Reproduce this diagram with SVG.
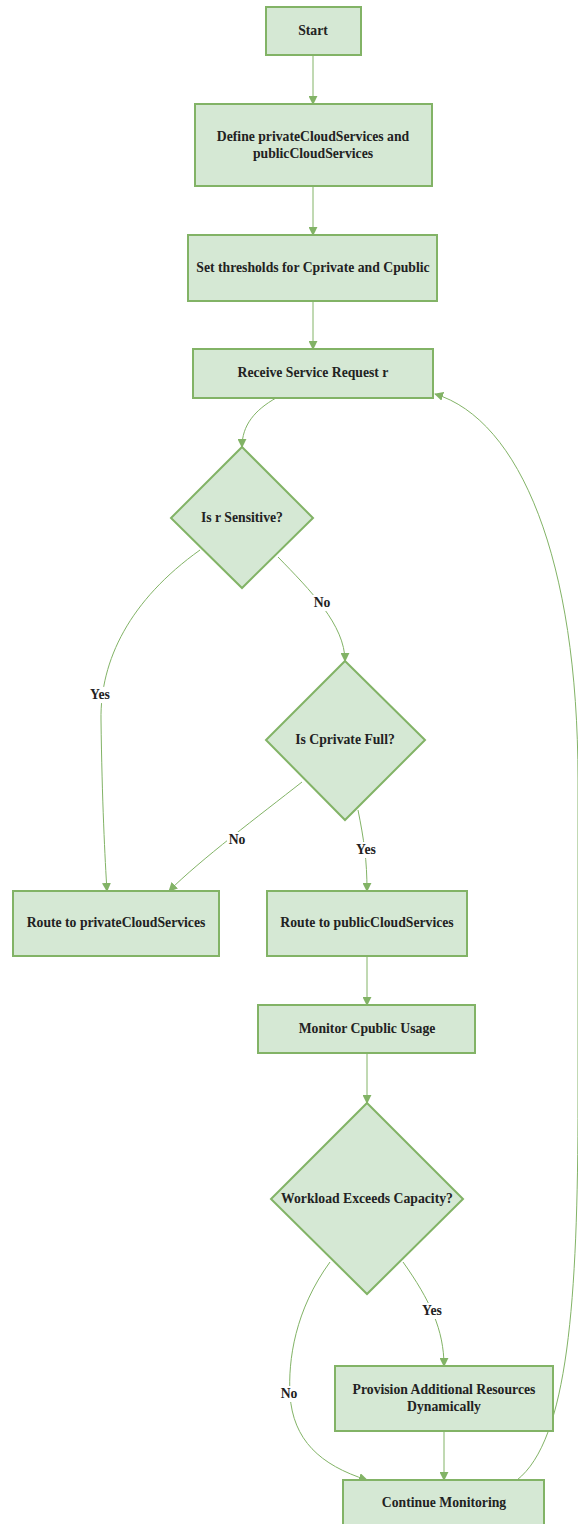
<svg xmlns="http://www.w3.org/2000/svg" width="578" height="1524" viewBox="0 0 578 1524">
<defs>
<marker id="arr" viewBox="0 0 10 10" refX="9" refY="5" markerWidth="9" markerHeight="9" markerUnits="userSpaceOnUse" orient="auto">
<path d="M0,0 L10,5 L0,10 z" fill="#82b366"/>
</marker>
<style>
.box{fill:#d5e8d4;stroke:#82b366;stroke-width:2}
.t{font-family:"Liberation Serif","Times New Roman",serif;font-weight:bold;font-size:13.7px;fill:#222;text-anchor:middle}
.e{fill:none;stroke:#82b366;stroke-width:1;marker-end:url(#arr)}
.lb{fill:#ffffff}
</style>
</defs>
<rect width="578" height="1524" fill="#ffffff"/>
<g id="connectors">
<path class="e" d="M313,55 L313,104"/>
<path class="e" d="M313,186 L313,235"/>
<path class="e" d="M313,301 L313,349"/>
<path class="e" d="M276,398 C 255,410 242,425 242,447"/>
<path class="e" d="M200,550 C 130,600 100,660 101,720 C 102,800 105,860 107,891"/>
<path class="e" d="M278,557 C 310,590 345,625 345,661"/>
<path class="e" d="M302,782 C 260,815 200,860 169,891"/>
<path class="e" d="M358,810 C 364,840 367,860 367,891"/>
<path class="e" d="M367,956 L367,1005"/>
<path class="e" d="M367,1053 L367,1103"/>
<path class="e" d="M403,1262 C 430,1300 444,1330 444,1366"/>
<path class="e" d="M330,1262 C 295,1310 288,1360 290,1395 C 293,1440 320,1465 367,1480"/>
<path class="e" d="M444,1431 L444,1480"/>
<path class="e" d="M517,1480 C 568,1440 578,1300 578,1100 L578,780 C 578,560 520,420 435,394"/>
</g>
<g id="edge-labels">
<rect class="lb" x="312" y="595" width="20" height="16"/>
<text class="t" x="322" y="607">No</text>
<rect class="lb" x="89" y="687" width="22" height="16"/>
<text class="t" x="100" y="699">Yes</text>
<rect class="lb" x="227" y="832" width="20" height="16"/>
<text class="t" x="237" y="844">No</text>
<rect class="lb" x="355" y="842" width="22" height="16"/>
<text class="t" x="366" y="854">Yes</text>
<rect class="lb" x="421" y="1303" width="22" height="16"/>
<text class="t" x="432" y="1315">Yes</text>
<rect class="lb" x="279" y="1386" width="20" height="16"/>
<text class="t" x="289" y="1398">No</text>
</g>
<g id="start">
<rect class="box" x="266" y="7" width="95" height="48"/>
<text class="t" x="313" y="35">Start</text>
</g>
<g id="define">
<rect class="box" x="195" y="104" width="237" height="82"/>
<text class="t" x="313" y="141">Define privateCloudServices and</text>
<text class="t" x="313" y="158">publicCloudServices</text>
</g>
<g id="thresholds">
<rect class="box" x="188" y="235" width="249" height="66"/>
<text class="t" x="313" y="272">Set thresholds for Cprivate and Cpublic</text>
</g>
<g id="receive">
<rect class="box" x="193" y="349" width="240" height="49"/>
<text class="t" x="313" y="377">Receive Service Request r</text>
</g>
<g id="sensitive">
<polygon class="box" points="242,447 313,518 242,588 171,518"/>
<text class="t" x="242" y="522">Is r Sensitive?</text>
</g>
<g id="cprivate-full">
<polygon class="box" points="345,661 425,740 345,820 266,740"/>
<text class="t" x="345" y="744">Is Cprivate Full?</text>
</g>
<g id="route-private">
<rect class="box" x="13" y="891" width="206" height="65"/>
<text class="t" x="116" y="927">Route to privateCloudServices</text>
</g>
<g id="route-public">
<rect class="box" x="267" y="891" width="200" height="65"/>
<text class="t" x="367" y="927">Route to publicCloudServices</text>
</g>
<g id="monitor">
<rect class="box" x="258" y="1005" width="217" height="48"/>
<text class="t" x="367" y="1033">Monitor Cpublic Usage</text>
</g>
<g id="workload">
<polygon class="box" points="367,1103 463,1199 367,1294 271,1199"/>
<text class="t" x="367" y="1203">Workload Exceeds Capacity?</text>
</g>
<g id="provision">
<rect class="box" x="335" y="1366" width="218" height="65"/>
<text class="t" x="444" y="1394">Provision Additional Resources</text>
<text class="t" x="444" y="1411">Dynamically</text>
</g>
<g id="continue">
<rect class="box" x="343" y="1480" width="201" height="46"/>
<text class="t" x="444" y="1507">Continue Monitoring</text>
</g>
</svg>
